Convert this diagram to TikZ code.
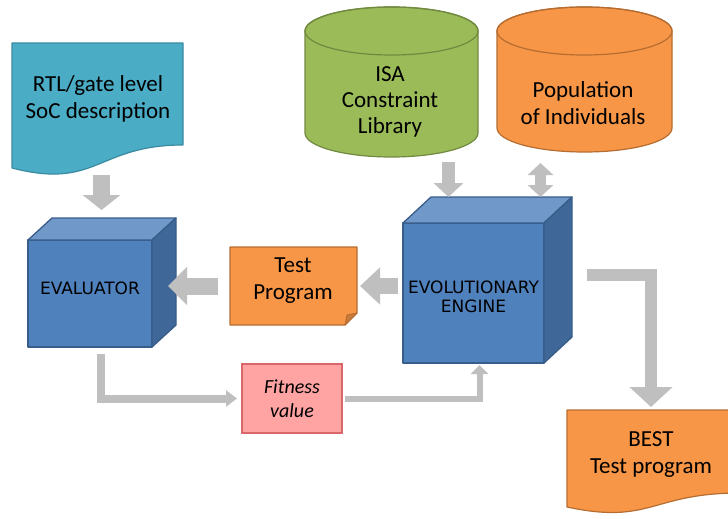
\documentclass[tikz,border=0pt]{standalone}
\usepackage{fontspec}
\setmainfont{Carlito}
\newfontfamily\cubefont{DejaVu Sans}
\usetikzlibrary{arrows.meta}

\definecolor{aqua}{HTML}{4BACC6}
\definecolor{aquaedge}{HTML}{3A8BA1}
\definecolor{cubefront}{HTML}{4F81BD}
\definecolor{cubetop}{HTML}{7099CA}
\definecolor{cubeside}{HTML}{3F6898}
\definecolor{cubeedge}{HTML}{385D8A}
\definecolor{orangefill}{HTML}{F79646}
\definecolor{orangeedge}{HTML}{B66D31}
\definecolor{foldorange}{HTML}{C87A3C}
\definecolor{greenfill}{HTML}{9BBB59}
\definecolor{greenedge}{HTML}{71893F}
\definecolor{pinkfill}{HTML}{FFA3A3}
\definecolor{pinkedge}{HTML}{D9676A}
\definecolor{arrowgray}{HTML}{BFBFBF}

\tikzset{
  frame/.style={inner sep=0pt, outer sep=0pt},
  txt/.style={font=\fontsize{23}{27}\selectfont, align=center, inner sep=0pt},
  cubetxt/.style={font=\cubefont\fontsize{17}{19}\selectfont, align=center, inner sep=0pt},
  face/.style={draw=cubeedge, line width=1.3pt, line join=round},
  flow/.style={draw=arrowgray, line join=miter},
}

\begin{document}
\begin{tikzpicture}[x=1pt, y=-1pt]
\clip (0,0) rectangle (728,519);
\fill[white] (0,0) rectangle (728,519);

% ---------- RTL description (document shape) ----------
\node[frame, minimum width=171pt, minimum height=125pt] (rtl) at (97.5,105.5) {};
\path[fill=aqua, draw=aquaedge, line width=1.2pt, line join=round]
  (12,43) -- (183,43) -- (183,145) .. controls (97,145) and (97,190) .. (12,168) -- cycle;
\node[txt] (rtltext) at (98,98.5) {RTL/gate level\\SoC description};

% ---------- ISA constraint library (cylinder) ----------
\node[frame, minimum width=173pt, minimum height=150pt] (isa) at (391.5,82) {};
\path[fill=greenfill, draw=greenedge, line width=1.2pt]
  (305,31) -- (305,133) arc[start angle=180, end angle=360, x radius=86.5pt, y radius=24pt]
  -- (478,31) arc[start angle=0, end angle=180, x radius=86.5pt, y radius=24pt] -- cycle;
\draw[greenedge, line width=1.2pt] (391.5,31) ellipse [x radius=86.5pt, y radius=24pt];
\node[txt, font=\fontsize{23}{26}\selectfont] (isatext) at (390,102) {ISA\\Constraint\\Library};

% ---------- Population of individuals (cylinder) ----------
\node[frame, minimum width=175pt, minimum height=145pt] (pop) at (584.5,79.5) {};
\path[fill=orangefill, draw=orangeedge, line width=1.2pt]
  (497,31) -- (497,128) arc[start angle=180, end angle=360, x radius=87.5pt, y radius=24pt]
  -- (672,31) arc[start angle=0, end angle=180, x radius=87.5pt, y radius=24pt] -- cycle;
\draw[orangeedge, line width=1.2pt] (584.5,31) ellipse [x radius=87.5pt, y radius=24pt];
\node[txt] (poptext) at (583,103.5) {Population\\of Individuals};

% ---------- Evaluator (cube) ----------
\node[frame, face, fill=cubefront, minimum width=124pt, minimum height=107pt] (evalf) at (90,293.5) {};
\path[face, fill=cubetop] (evalf.north west) -- ++(24,-22) -- ++(124,0) -- (evalf.north east) -- cycle;
\path[face, fill=cubeside] (evalf.north east) -- ++(24,-22) -- ++(0,107) -- (evalf.south east) -- cycle;
\node[cubetxt] (evaltext) at (90,288) {EVALUATOR};

% ---------- Evolutionary engine (cube) ----------
\node[frame, face, fill=cubefront, minimum width=141pt, minimum height=140pt] (engf) at (473.5,293) {};
\path[face, fill=cubetop] (engf.north west) -- ++(28,-26) -- ++(141,0) -- (engf.north east) -- cycle;
\path[face, fill=cubeside] (engf.north east) -- ++(28,-26) -- ++(0,140) -- (engf.south east) -- cycle;
\node[cubetxt] (engtext) at (473.5,296.5) {EVOLUTIONARY\\ENGINE};

% ---------- Test program (note with folded corner) ----------
\node[frame, minimum width=127pt, minimum height=78pt] (tp) at (293.5,286) {};
\path[fill=orangefill, draw=orangeedge, line width=1.2pt, line join=round]
  (tp.north west) -- (tp.north east) -- ([yshift=12pt]tp.south east)
  -- ([xshift=-12pt]tp.south east) -- (tp.south west) -- cycle;
\path[fill=foldorange, draw=orangeedge, line width=0.8pt, line join=round]
  ([yshift=12pt]tp.south east) -- ([xshift=-10pt, yshift=10pt]tp.south east)
  -- ([xshift=-12pt]tp.south east) -- cycle;
\node[txt] (tptext) at (293,280.5) {Test\\Program};

% ---------- Fitness value ----------
\node[frame, fill=pinkfill, draw=pinkedge, line width=1.2pt, minimum width=100pt, minimum height=69pt,
      font=\itshape\fontsize{20}{24}\selectfont, align=center] (fit) at (292,398.5) {Fitness\\value};

% ---------- Best test program (document shape) ----------
\node[frame, minimum width=168pt, minimum height=104pt] (best) at (651,462) {};
\path[fill=orangefill, draw=orangeedge, line width=1.2pt, line join=round]
  (567,410) -- (740,410) -- (740,493) .. controls (651,493) and (651,525) .. (567,507) -- cycle;
\node[txt] (besttext) at (651,455) {BEST\\Test program};

% ---------- Connectors ----------
\draw[flow, line width=17pt, -{Triangle[width=37pt, length=15pt]}, shorten <=7pt, shorten >=30pt]
  ([xshift=4pt]rtl.south) -- ([xshift=11.5pt]evalf.north);
\draw[flow, line width=17pt, -{Triangle[width=37pt, length=19pt]}, shorten <=12pt, shorten >=16pt]
  (tp.west) -- (tp.west -| evalf.east);
\draw[flow, line width=16pt, -{Triangle[width=36pt, length=20pt]}, shorten <=5pt, shorten >=3pt]
  (tp.east -| engf.west) -- (tp.east);
\draw[flow, line width=13pt, -{Triangle[width=29pt, length=14pt]}, shorten <=5pt, shorten >=26pt]
  ([xshift=57pt]isa.south) -- ([xshift=-25pt]engf.north);
\draw[flow, line width=11pt, {Triangle[width=25pt, length=12pt]}-{Triangle[width=25pt, length=12pt]},
      shorten <=11pt, shorten >=26pt]
  ([xshift=-44pt]pop.south) -- ([xshift=67pt]engf.north);
\draw[flow, line width=8pt, -{Triangle[width=16pt, length=11pt]}, shorten <=7pt, shorten >=5pt]
  ([xshift=11pt]evalf.south) |- (fit.west);
\draw[flow, line width=6pt, -{Triangle[width=17pt, length=9pt]}, shorten <=3pt, shorten >=2pt]
  (fit.east) -| ([xshift=6pt]engf.south);
\draw[flow, line width=12pt, -{Triangle[width=42pt, length=20pt]}, shorten <=43pt, shorten >=3pt]
  ([yshift=18.5pt]engf.east) -| (best.north);
\end{tikzpicture}
\end{document}
